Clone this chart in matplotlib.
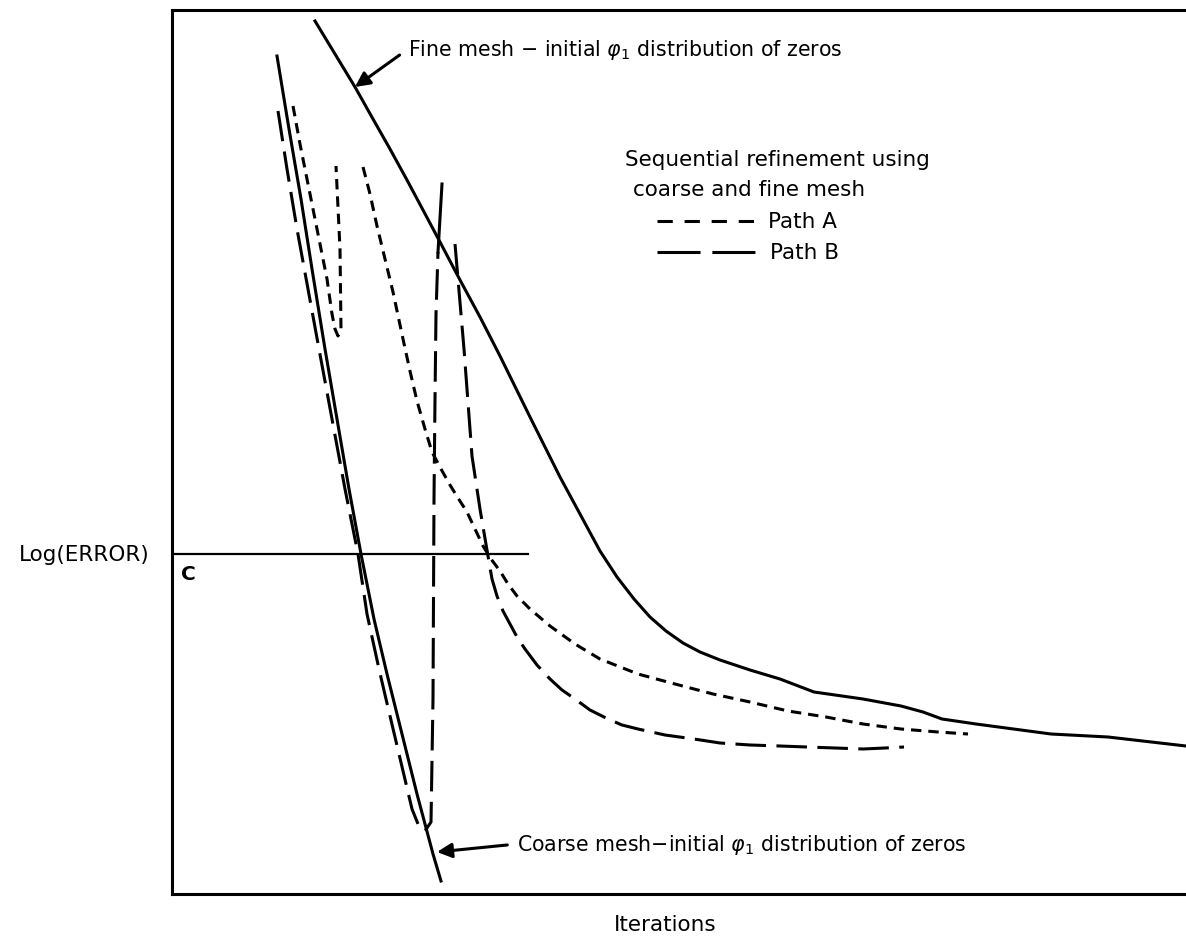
import matplotlib
matplotlib.use("Agg")
import matplotlib.pyplot as plt
import numpy as np

plt.rcParams['font.family'] = ['DejaVu Sans']
plt.rcParams['lines.scale_dashes'] = False

# curves (iterations, log error) in arbitrary units
fine_it = [143, 163, 183, 201, 218, 235, 251, 268, 288, 308, 328, 358, 388, 408, 428,
           445, 462, 478, 494, 511, 528, 548, 578, 608, 642, 691, 729, 751, 770, 804,
           879, 936, 1014]
fine_err = [873, 840, 807, 775, 745, 714, 684, 652, 614, 577, 538, 477, 417, 380, 343,
            317, 295, 277, 263, 251, 242, 234, 224, 215, 202, 195, 188, 182, 175, 170,
            160, 157, 148]

coarse_it = [105, 117, 129, 140, 153, 165, 177, 189, 202, 215, 230, 245, 261, 269]
coarse_err = [838, 765, 695, 625, 545, 475, 405, 340, 275, 220, 160, 100, 40, 13]

# path A: coarse mesh first, then jump to fine mesh
pathA1_it = [121, 128, 138, 148, 155, 160, 163, 166, 169, 168, 164]
pathA1_err = [788, 750, 700, 650, 615, 580, 565, 558, 564, 645, 728]
pathA2_it = [191, 198, 205, 213, 221, 231, 238, 245, 253, 260, 269, 278, 286, 295, 303,
             311, 319, 328, 336, 345, 358, 378, 403, 428, 466, 503, 541, 578, 616, 654,
             691, 729, 766, 796]
pathA2_err = [727, 700, 668, 635, 602, 555, 523, 493, 465, 442, 425, 409, 396, 382, 365,
              348, 335, 323, 310, 298, 285, 268, 250, 235, 220, 210, 200, 192, 183, 177,
              170, 165, 162, 160]

# path B: coarse mesh all the way down, then jump to fine mesh
pathB1_it = [106, 115, 125, 136, 147, 160, 173, 186, 195, 207, 214, 227, 240, 246, 253,
             259, 261, 262, 263, 264, 266]
pathB1_err = [783, 725, 665, 605, 545, 475, 405, 340, 280, 225, 195, 140, 85, 70, 63,
              72, 195, 395, 495, 580, 642]
jump_it = [266, 270]
jump_err = [642, 710]
pathB2_it = [283, 292, 300, 308, 316, 320, 325, 331, 338, 345, 353, 365, 378, 390, 403,
             418, 436, 450, 466, 493, 522, 548, 578, 608, 635, 663, 691, 713, 732]
pathB2_err = [650, 545, 438, 385, 338, 315, 298, 283, 270, 257, 245, 229, 215, 204, 195,
              184, 175, 169, 165, 159, 155, 151, 149, 148, 147, 146, 145, 146, 147]

c_level = 340
c_extent = [0, 356]

W, H = 1186, 937
fig = plt.figure(figsize=(W / 100, H / 100), dpi=100)
ax = fig.add_axes([172 / W, (H - 895) / H, 1 - 172 / W, (895 - 11) / H])
ax.set_xlim(0, 1014)
ax.set_ylim(0, 884)
ax.set_xticks([])
ax.set_yticks([])
for s in ['left', 'bottom', 'top']:
    ax.spines[s].set_linewidth(2.2)
ax.spines['right'].set_visible(False)

lw = 2.2
ax.plot(fine_it, fine_err, color='k', lw=lw)
ax.plot(coarse_it, coarse_err, color='k', lw=lw)
ax.plot(pathA1_it, pathA1_err, color='k', lw=lw, dashes=(7.5, 5))
ax.plot(pathA2_it, pathA2_err, color='k', lw=lw, dashes=(7.5, 5))
ax.plot(pathB1_it, pathB1_err, color='k', lw=lw, dashes=(22, 7.5))
ax.plot(jump_it, jump_err, color='k', lw=lw)
ax.plot(pathB2_it, pathB2_err, color='k', lw=lw, dashes=(22, 7.5))
ax.plot(c_extent, [c_level, c_level], color='k', lw=1.6)

fs = 15.5
fs_note = 14.8
ax.text(9, 320, 'C', fontsize=fs - 1, fontweight='bold', va='center', ha='left')

ax.annotate(r'Fine mesh $-$ initial $\varphi_1$ distribution of zeros',
            xy=(183, 807), xytext=(236, 845), fontsize=fs_note, va='center', ha='left',
            arrowprops=dict(arrowstyle='-|>', color='k', lw=2.2, mutation_scale=22,
                            relpos=(0, 0.5), shrinkA=5, shrinkB=0))
ax.annotate(r'Coarse mesh$-$initial $\varphi_1$ distribution of zeros',
            xy=(265, 42), xytext=(345, 50), fontsize=fs_note, va='center', ha='left',
            arrowprops=dict(arrowstyle='-|>', color='k', lw=2.2, mutation_scale=22,
                            relpos=(0, 0.5), shrinkA=5, shrinkB=0))

# hand-drawn key
ax.text(453, 735, 'Sequential refinement using', fontsize=fs, va='center', ha='left')
ax.text(461, 705, 'coarse and fine mesh', fontsize=fs, va='center', ha='left')
ax.plot([485, 590], [673, 673], color='k', lw=lw, dashes=(11, 8.5))
ax.text(596, 673, 'Path A', fontsize=fs, va='center', ha='left')
ax.plot([485, 590], [642, 642], color='k', lw=lw, dashes=(31, 8.5))
ax.text(598, 642, 'Path B', fontsize=fs, va='center', ha='left')

ax.set_ylabel('Log(ERROR)', rotation=0, fontsize=fs, ha='right', va='center')
ax.yaxis.set_label_coords(-0.022, c_level / 884)
ax.set_xlabel('Iterations', fontsize=fs, va='center')
ax.xaxis.set_label_coords(0.486, -0.034)

fig.savefig('out.png', dpi=100)
